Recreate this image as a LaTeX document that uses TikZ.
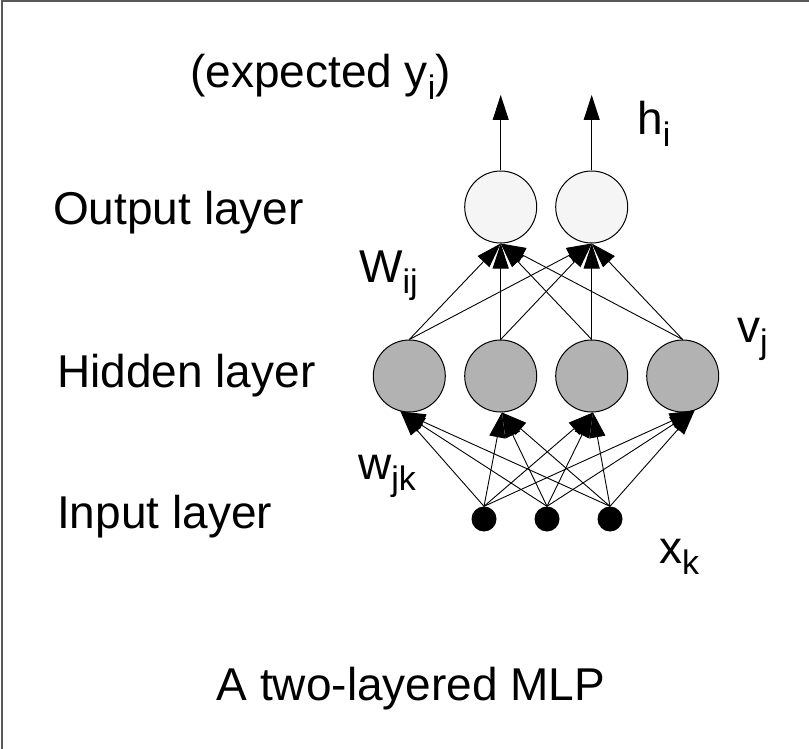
\documentclass[tikz,border=0pt]{standalone}
\usepackage{fontspec}
\setmainfont{Liberation Sans}
\usetikzlibrary{arrows.meta}
\newcommand\sbs[1]{\raisebox{-0.26em}{\fontsize{34}{34}\selectfont #1}}
\begin{document}
\begin{tikzpicture}[x=1pt,y=-1pt,
  lbl/.style={anchor=base west,inner sep=0pt,font=\fontsize{46}{50}\selectfont},
  outn/.style={circle,draw=black,line width=1pt,fill=black!4,minimum size=72pt,inner sep=0pt},
  hidn/.style={circle,draw=black,line width=1pt,fill=black!30,minimum size=72pt,inner sep=0pt},
  inn/.style={circle,fill=black,minimum size=25pt,inner sep=0pt},
  edge/.style={line width=0.9pt,-{Triangle[length=25pt,width=16pt]}},
  frameline/.style={line width=2pt,draw=black!65}]
\useasboundingbox (0,0) rectangle (809,749);
\draw[frameline] (1.5,749) -- (1.5,1.5) -- (809,1.5);
% nodes
\node[outn] (o1) at (500.7,207) {};
\node[outn] (o2) at (591.7,207) {};
\node[hidn] (h1) at (409.3,376) {};
\node[hidn] (h2) at (500.7,376) {};
\node[hidn] (h3) at (591.7,376) {};
\node[hidn] (h4) at (682.7,376) {};
\node[inn] (i1) at (484,519) {};
\node[inn] (i2) at (547,519) {};
\node[inn] (i3) at (610,519) {};
\coordinate (t1) at (500.7,95);
\coordinate (t2) at (591.7,95);
% edges
\foreach \h/\a in {h1/-104,h2/-88,h3/-88,h4/-71}
  \foreach \i in {i1,i2,i3}
    \draw[edge] (\i.north) -- (\h.\a);
\foreach \h in {h1,h2,h3,h4}
  \foreach \o in {o1,o2}
    \draw[edge] (\h.north) -- (\o.south);
\draw[edge] (o1.north) -- (t1);
\draw[edge] (o2.north) -- (t2);
% labels
\node[lbl] (lexp) at (190,88) {(expected y\sbs{i})};
\node[lbl] (lh) at (637,135) {h\sbs{i}};
\node[lbl] (lout) at (53,224) {Output layer};
\node[lbl] (lW) at (359,282) {W\sbs{ij}};
\node[lbl] (lv) at (737,342) {v\sbs{j}};
\node[lbl] (lhid) at (57,387) {Hidden layer};
\node[lbl] (lw) at (358,479) {w\sbs{jk}};
\node[lbl] (lin) at (57,528) {Input layer};
\node[lbl] (lx) at (659,563) {x\sbs{k}};
\node[lbl,anchor=base] (cap) at (411,700) {A two-layered MLP};
\end{tikzpicture}
\end{document}
